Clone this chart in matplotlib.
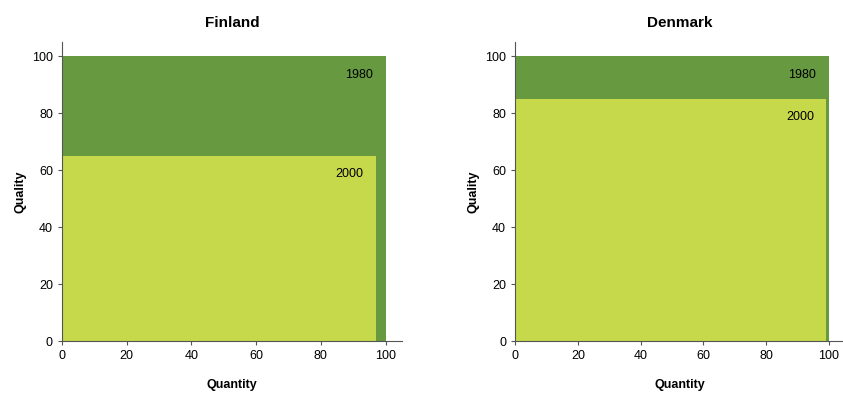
import matplotlib
matplotlib.use("Agg")
import matplotlib.pyplot as plt

plt.rcParams['font.family'] = ['Liberation Sans', 'DejaVu Sans']

countries = ["Finland", "Denmark"]
years = ["1980", "2000"]
# quantity (width) and quality (height) per country, per year
quantity = {"Finland": [100, 97], "Denmark": [100, 99.2]}
quality = {"Finland": [100, 65], "Denmark": [100, 85]}
colors = ["#669940", "#c6d94a"]

fig = plt.figure(figsize=(8.43, 3.94), dpi=100)
axes = [fig.add_axes([0.0735, 0.1345, 0.403, 0.759]),
        fig.add_axes([0.611, 0.1345, 0.391, 0.759])]

for ax, country in zip(axes, countries):
    for i, year in enumerate(years):
        w = quantity[country][i]
        h = quality[country][i]
        ax.bar(0, h, width=w, align="edge", color=colors[i], zorder=i + 1)
        ax.text(w - 4, h - 6.5, year, ha="right", va="center", fontsize=9, zorder=5)
    ax.set_xlim(0, 105)
    ax.set_ylim(0, 105)
    ax.set_xticks([0, 20, 40, 60, 80, 100])
    ax.set_yticks([0, 20, 40, 60, 80, 100])
    ax.tick_params(labelsize=9, length=3, color="#555555")
    for side in ["top", "right"]:
        ax.spines[side].set_visible(False)
    for side in ["left", "bottom"]:
        ax.spines[side].set_color("#555555")
        ax.spines[side].set_zorder(6)
    ax.set_title(country, fontsize=11, fontweight="bold", pad=11)
    ax.set_xlabel("Quantity", fontsize=9, fontweight="bold", labelpad=12)
    ax.set_ylabel("Quality", fontsize=9, fontweight="bold", labelpad=4)

fig.savefig("out.png", dpi=100)
